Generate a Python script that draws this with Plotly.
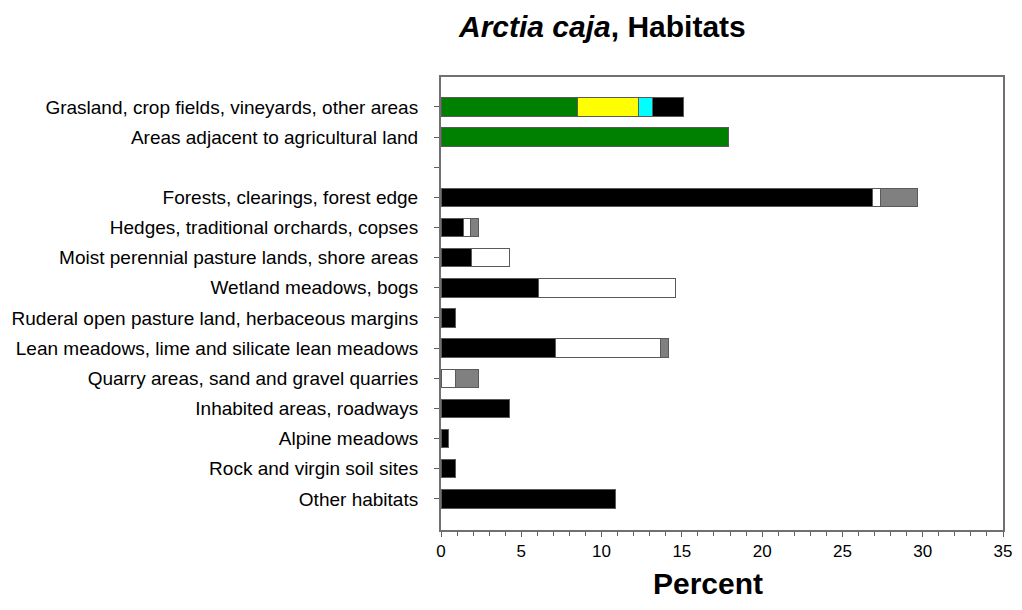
import plotly.graph_objects as go

categories = [
    "Grasland, crop fields, vineyards, other areas",
    "Areas adjacent to agricultural land",
    " ",
    "Forests, clearings, forest edge",
    "Hedges, traditional orchards, copses",
    "Moist perennial pasture lands, shore areas",
    "Wetland meadows, bogs",
    "Ruderal open pasture land, herbaceous margins",
    "Lean meadows, lime and silicate lean meadows",
    "Quarry areas, sand and gravel quarries",
    "Inhabited areas, roadways",
    "Alpine meadows",
    "Rock and virgin soil sites",
    "Other habitats",
]

green = [8.5, 17.9, None, None, None, None, None, None, None, None, None, None, None, None]
yellow = [3.8, None, None, None, None, None, None, None, None, None, None, None, None, None]
cyan = [0.9, None, None, None, None, None, None, None, None, None, None, None, None, None]
black = [1.9, None, None, 26.9, 1.43, 1.9, 6.1, 0.92, 7.1, None, 4.24, 0.49, 0.92, 10.85]
white = [None, None, None, 0.45, 0.41, 2.35, 8.5, None, 6.55, 0.92, None, None, None, None]
grey = [None, None, None, 2.35, 0.49, None, None, None, 0.5, 1.43, None, None, None, None]

x_ticks = [0, 5, 10, 15, 20, 25, 30, 35]

series = [
    ("green", green, "#008000"),
    ("yellow", yellow, "#FFFF00"),
    ("cyan", cyan, "#00FFFF"),
    ("black", black, "#000000"),
    ("white", white, "#FFFFFF"),
    ("grey", grey, "#808080"),
]

fig = go.Figure()
for name, vals, col in series:
    fig.add_trace(go.Bar(
        y=categories, x=vals, orientation="h", name=name,
        marker=dict(color=col, line=dict(color="#5a5a5a", width=1)),
        showlegend=False, hoverinfo="skip",
    ))

font_family = "Liberation Sans, Arial, sans-serif"

# page body has an 8px margin: plot area lands at about x 441-1003, y 77-530
W, H = 1014, 594
ml, mr, mt, mb = 433, 19, 69, 72
pw, ph = W - ml - mr, H - mt - mb

fig.update_layout(
    width=W, height=H,
    barmode="stack", bargap=0.39,
    plot_bgcolor="white", paper_bgcolor="white",
    margin=dict(l=ml, r=mr, t=mt, b=mb, autoexpand=False),
    font=dict(family=font_family, color="black"),
    xaxis=dict(
        range=[0, 35], tickvals=x_ticks, ticks="outside", ticklen=5,
        tickcolor="#606060", tickwidth=1, automargin=False,
        ticklabeloverflow="allow",
        minor=dict(dtick=1, ticks="outside", ticklen=4, tickcolor="#606060"),
        showline=True, linecolor="#707070", linewidth=2, mirror=True,
        showgrid=False, zeroline=False,
        tickfont=dict(size=17, family=font_family, color="black"),
    ),
    yaxis=dict(
        categoryorder="array", categoryarray=categories,
        range=[13.5 + 0.53, -0.99], automargin=False,
        ticks="outside", ticklen=5, tickcolor="#606060",
        showline=True, linecolor="#707070", linewidth=2, mirror=True,
        showgrid=False, zeroline=False,
        tickfont=dict(size=19, family=font_family, color="black"),
        ticklabelstandoff=12,
    ),
)

fig.add_annotation(
    text="<b><i>Arctia caja</i>, Habitats</b>", xref="paper", yref="paper",
    x=(602 - 441) / pw, y=1 + mt / ph, showarrow=False,
    xanchor="center", yanchor="top",
    font=dict(size=30, family=font_family, color="black"),
)
fig.add_annotation(
    text="<b>Percent</b>", xref="paper", yref="paper",
    x=(708 - 441) / pw, y=-mb / ph, showarrow=False,
    xanchor="center", yanchor="bottom",
    font=dict(size=30, family=font_family, color="black"),
)

fig.write_html("out.html")
